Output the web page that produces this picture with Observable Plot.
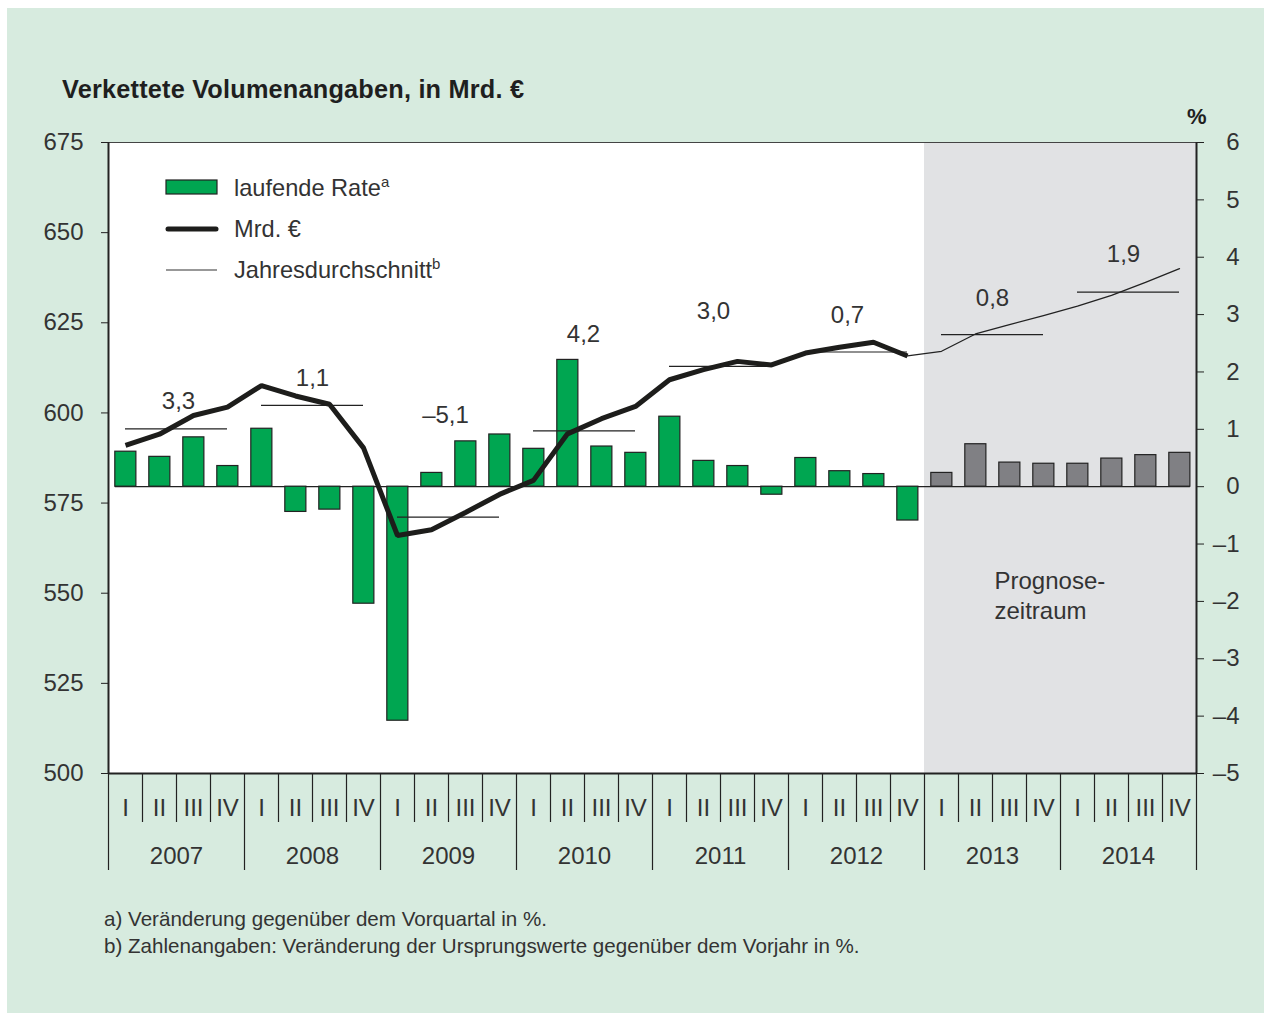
<!DOCTYPE html>
<html>
<head>
<meta charset="utf-8">
<script src="https://cdn.jsdelivr.net/npm/d3@7"></script>
<script src="https://cdn.jsdelivr.net/npm/@observablehq/plot@0.6"></script>
<style>
  html, body { margin: 0; padding: 0; background: #fff; }
  #page { position: relative; width: 1271px; height: 1021px; background: #fff; font-family: "Liberation Sans", Arial, sans-serif; color: #333; }
  #panel { position: absolute; left: 7px; top: 8px; width: 1257px; height: 1005px; background: #d7ebdf; }
  #title { position: absolute; left: 62px; top: 75px; font-size: 25.3px; letter-spacing: 0.2px; font-weight: bold; color: #1f1f1f; white-space: nowrap; }
  #pct { position: absolute; left: 1187px; top: 104px; font-size: 22px; font-weight: bold; color: #1f1f1f; }
  #chart { position: absolute; left: 0; top: 100px; }
  #legend { position: absolute; left: 0; top: 0; pointer-events: none; }
  .note { position: absolute; left: 104px; font-size: 20.6px; color: #333; white-space: nowrap; }
</style>
</head>
<body>
<div id="page">
  <div id="panel"></div>
  <div id="title">Verkettete Volumenangaben, in Mrd. €</div>
  <div id="pct">%</div>
  <div id="chart"></div>
  <svg id="legend" width="1271" height="320">
    <rect x="166" y="180" width="51" height="14" fill="#00a651" stroke="#222" stroke-width="1.2"></rect>
    <text x="234" y="196" font-size="23.6" fill="#333" font-family="Liberation Sans, Arial, sans-serif">laufende Rate<tspan font-size="15" dy="-9">a</tspan></text>
    <line x1="168" y1="229" x2="216" y2="229" stroke="#1d1d1b" stroke-width="5" stroke-linecap="round"></line>
    <text x="234" y="237" font-size="23.6" fill="#333" font-family="Liberation Sans, Arial, sans-serif">Mrd. €</text>
    <line x1="166" y1="270" x2="217" y2="270" stroke="#333" stroke-width="1.2"></line>
    <text x="234" y="278" font-size="23.6" fill="#333" font-family="Liberation Sans, Arial, sans-serif">Jahresdurchschnitt<tspan font-size="15" dy="-9">b</tspan></text>
  </svg>
  <div class="note" style="top: 907px;">a) Veränderung gegenüber dem Vorquartal in %.</div>
  <div class="note" style="top: 934px;">b) Zahlenangaben: Veränderung der Ursprungswerte gegenüber dem Vorjahr in %.</div>
</div>
<script>
// ---------- data ----------
const years = [2007, 2008, 2009, 2010, 2011, 2012, 2013, 2014];
const quarterLabels = ["I", "II", "III", "IV"];

// laufende Rate (% change vs previous quarter), 2007 I .. 2014 IV
const rate = [
  0.61, 0.52, 0.86, 0.36,
  1.01, -0.44, -0.40, -2.04,
  -4.08, 0.24, 0.79, 0.91,
  0.66, 2.21, 0.70, 0.59,
  1.22, 0.45, 0.36, -0.14,
  0.50, 0.27, 0.22, -0.59,
  0.24, 0.74, 0.42, 0.40,
  0.40, 0.49, 0.55, 0.59
];

// Mrd. € (chained volumes), history 2007 I .. 2012 IV
const mrdHist = [
  591.0, 594.1, 599.3, 601.6,
  607.6, 604.7, 602.4, 590.3,
  566.0, 567.6, 572.4, 577.4,
  581.3, 594.2, 598.4, 601.8,
  609.2, 612.0, 614.3, 613.3,
  616.6, 618.2, 619.6, 615.8
];
// Mrd. € forecast path, 2012 IV .. 2014 IV
const mrdForecast = [615.8, 617.1, 621.9, 624.5, 627.0, 629.6, 632.6, 636.2, 640.0];

// Jahresdurchschnitt (Mrd. €) and annual change labels (%)
const annualAvg = [595.6, 602.1, 571.1, 595.0, 612.9, 616.9, 621.7, 633.5];
const annualChange = [3.3, 1.1, -5.1, 4.2, 3.0, 0.7, 0.8, 1.9];
// label placement offsets (px) relative to the annual-average rule
const labelDx = [2, 0, -3, -1, -7, -9, 0, -5];
const labelDy = [-27, -27, -102, -97, -55, -37, -36, -38];

const leftTicks = [500, 525, 550, 575, 600, 625, 650, 675];
const rightTicks = [-5, -4, -3, -2, -1, 0, 1, 2, 3, 4, 5, 6];

// ---------- helpers ----------
const mrdMin = 500, mrdMax = 675, pctMin = -5, pctMax = 6;
const toPct = v => (v - mrdMin) / (mrdMax - mrdMin) * (pctMax - pctMin) + pctMin;
const fromPct = p => (p - pctMin) / (pctMax - pctMin) * (mrdMax - mrdMin) + mrdMin;
const dash = n => (n < 0 ? "\u2013" : "") + String(Math.abs(n));
const fmtDec = n => (n < 0 ? "\u2013" : "") + Math.abs(n).toFixed(1).replace(".", ",");

const nQ = rate.length;
const nHist = mrdHist.length;
const GREEN = "#00a651", GRAY = "#808084", INK = "#222";
const FS = 24;

const bars = rate.map((r, i) => ({i, r, forecast: i >= nHist}));
const hist = mrdHist.map((v, i) => ({x: i + 0.5, y: toPct(v)}));
const fc = mrdForecast.map((v, k) => ({x: nHist - 1 + k + 0.5, y: toPct(v)}));
const annual = years.map((yr, k) => ({k, yr, avg: annualAvg[k], ch: annualChange[k]}));
const quarterCenters = d3.range(nQ).map(i => i + 0.5);
const quarterBounds = d3.range(nQ + 1).filter(i => i % 4 !== 0);
const yearBounds = d3.range(0, nQ + 1, 4);
const yearCenters = years.map((y, k) => k * 4 + 2);

const chart = Plot.plot({
  width: 1271,
  height: 785,
  marginTop: 42,
  marginBottom: 112,
  marginLeft: 108,
  marginRight: 75,
  x: {domain: [0, nQ], axis: null},
  y: {domain: [pctMin, pctMax], axis: null},
  style: {fontFamily: "Liberation Sans, Arial, sans-serif", fontSize: FS + "px", color: "#333", background: "transparent", overflow: "visible"},
  marks: [
    Plot.rect([0], {x1: 0, x2: nHist, y1: pctMin, y2: pctMax, fill: "white"}),
    Plot.rect([0], {x1: nHist, x2: nQ, y1: pctMin, y2: pctMax, fill: "#e1e2e4"}),
    Plot.text(["Prognose-\nzeitraum"], {x: nHist, y: 0, dx: 70, dy: 81, textAnchor: "start", lineAnchor: "top", lineHeight: 1.25, fontSize: FS, fill: "#333"}),
    Plot.ruleY([0], {x1: 0.2, x2: nQ - 0.18, stroke: INK, strokeWidth: 1.2}),
    Plot.rect(bars, {x1: d => d.i + 0.2, x2: d => d.i + 0.82, y1: 0, y2: "r", fill: d => d.forecast ? GRAY : GREEN, stroke: INK, strokeWidth: 1.2}),
    Plot.ruleY(annual, {x1: d => d.k * 4 + 0.5, x2: d => d.k * 4 + 3.5, y: d => toPct(d.avg), stroke: INK, strokeWidth: 1.2}),
    Plot.line(fc, {x: "x", y: "y", stroke: INK, strokeWidth: 1.3}),
    Plot.line(hist, {x: "x", y: "y", stroke: "#1d1d1b", strokeWidth: 5, strokeLinejoin: "miter", strokeLinecap: "butt"}),
    ...annual.map(d => Plot.text([fmtDec(d.ch)], {x: d.k * 4 + 2, y: toPct(d.avg), dx: labelDx[d.k], dy: labelDy[d.k], fontSize: FS, fill: "#333", lineAnchor: "middle"})),
    // frame lines
    Plot.ruleY([pctMax], {stroke: "#444", strokeWidth: 1.2}),
    Plot.ruleY([pctMin], {stroke: INK, strokeWidth: 2}),
    Plot.ruleX([0, nQ], {stroke: INK, strokeWidth: 2}),
    // left axis (Mrd. €)
    Plot.axisY(leftTicks.map(toPct), {anchor: "left", label: null, tickSize: 7, tickPadding: 18, tickFormat: d => Math.round(fromPct(d)), stroke: INK, fontSize: FS}),
    // right axis (%)
    Plot.axisY(rightTicks, {anchor: "right", label: null, tickSize: 7, tickPadding: 36, textAnchor: "end", tickFormat: d => dash(d), stroke: INK, fontSize: FS}),
    // quarter separators and labels
    Plot.axisX(quarterBounds, {anchor: "bottom", label: null, tickSize: 49, tickFormat: () => "", stroke: INK, strokeWidth: 1.2}),
    Plot.axisX(yearBounds, {anchor: "bottom", label: null, tickSize: 97, tickFormat: () => "", stroke: INK, strokeWidth: 1.2}),
    Plot.axisX(quarterCenters, {anchor: "bottom", label: null, tickSize: 0, tickPadding: 25, tickFormat: d => quarterLabels[Math.floor(d) % 4], fontSize: FS}),
    Plot.axisX(yearCenters, {anchor: "bottom", label: null, tickSize: 0, tickPadding: 73, tickFormat: d => String(years[(d - 2) / 4]), fontSize: FS})
  ]
});
document.getElementById("chart").appendChild(chart);
</script>
</body>
</html>
